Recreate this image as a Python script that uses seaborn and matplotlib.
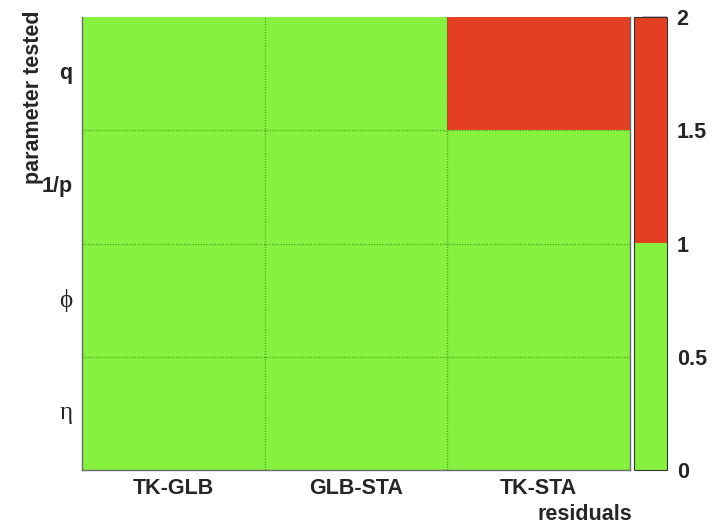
import matplotlib
matplotlib.use("Agg")
import matplotlib.pyplot as plt
from matplotlib.colors import ListedColormap
import numpy as np
import pandas as pd
import seaborn as sns

# Residual test outcome per parameter (rows) and residual type (columns)
residual_types = ["TK-GLB", "GLB-STA", "TK-STA"]
parameters = ["q", "1/p", "ϕ", "η"]
row_q = [1, 1, 2]
row_inv_p = [1, 1, 1]
row_phi = [1, 1, 1]
row_eta = [1, 1, 1]
cbar_ticks = [0, 0.5, 1, 1.5, 2]

table = pd.DataFrame([row_q, row_inv_p, row_phi, row_eta],
                     index=parameters, columns=residual_types)

green = "#86F13E"
red = "#E43F23"
# two-level palette; the lower level includes the value 1 itself
n_lo, n_hi = 1001, 1000
cmap = ListedColormap([green] * n_lo + [red] * n_hi)

sns.set_style("white")
plt.rcParams["font.family"] = ["Liberation Sans", "DejaVu Sans"]

W, H = 716, 523
fig = plt.figure(figsize=(W / 100, H / 100), dpi=100)
ax = fig.add_axes([82 / W, 1 - 470 / H, 548 / W, 453 / H])
cax = fig.add_axes([634 / W, 1 - 470 / H, 33 / W, 453 / H])

sns.heatmap(table, ax=ax, cbar_ax=cax, cmap=cmap, vmin=0, vmax=2,
            cbar=True, linewidths=0)

# dotted cell boundaries
grid_col = "#3f7f18"
for y in range(1, len(parameters)):
    ax.axhline(y, color=grid_col, lw=0.9, ls=(0, (1, 1.2)), alpha=0.7,
               zorder=3)
for x in range(1, len(residual_types)):
    ax.axvline(x, color=grid_col, lw=0.9, ls=(0, (1, 1.2)), alpha=0.7,
               zorder=3)

# frame
for side, sp in ax.spines.items():
    sp.set_visible(True)
    sp.set_color("#6a6a6a")
    sp.set_linewidth(1.0)
ax.spines["top"].set_visible(False)

# category labels
ax.set_xticks(np.arange(len(residual_types)) + 0.5)
ax.set_xticklabels(residual_types, fontsize=15.5, fontweight="bold", rotation=0)
ax.set_yticks(np.arange(len(parameters)) + 0.5)
ax.set_yticklabels(parameters, rotation=0)
for lab in ax.get_yticklabels():
    if lab.get_text() in ("ϕ", "η"):
        lab.set_fontfamily(["Liberation Serif", "DejaVu Serif"])
        lab.set_fontsize(18)
        lab.set_fontweight("normal")
    else:
        lab.set_fontsize(15.5)
        lab.set_fontweight("bold")
ax.tick_params(axis="both", which="major", length=0)
ax.tick_params(axis="y", which="major", pad=7)
ax.tick_params(axis="x", which="major", pad=6)

# inward tick marks on the bin edges
ax.set_xticks([1, 2], minor=True)
ax.set_yticks([2, 3], minor=True)
ax.tick_params(axis="x", which="minor", direction="in", length=12,
               width=1.2, color="#2a5010", bottom=True)
ax.tick_params(axis="y", which="minor", direction="in", length=18,
               width=1.5, color="#5a9a2a", left=True)

ax.set_xlabel("")
ax.set_ylabel("")
fig.text(632 / W, 1 - 514 / H, "residuals", ha="right", va="center",
         fontsize=15.5, fontweight="bold")
fig.text(34 / W, 1 - 10 / H, "parameter tested", ha="center", va="top",
         rotation=90, fontsize=15.5, fontweight="bold")

# colour scale
cbar = ax.collections[0].colorbar
cbar.set_ticks(cbar_ticks)
cbar.set_ticklabels(["0", "0.5", "1", "1.5", "2"])
cax.tick_params(direction="in", length=17, width=1.2,
                color=(0, 0, 0, 0.3), pad=7, labelsize=15.5)
for lab in cax.get_yticklabels():
    lab.set_fontweight("bold")
cbar.outline.set_edgecolor("#333333")
cbar.outline.set_linewidth(0.8)

fig.savefig("out.png", dpi=100, facecolor="white")
